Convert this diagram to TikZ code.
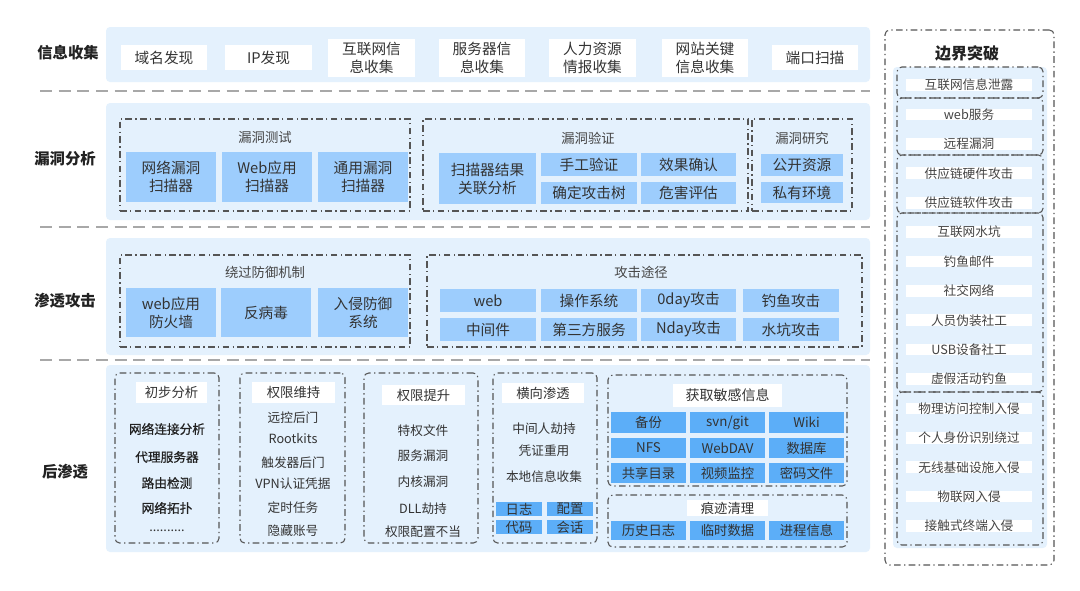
\documentclass[tikz,border=0pt]{standalone}
\usepackage{fontspec}
\setmainfont{Noto Sans CJK SC}
\newfontfamily\semibfont[FakeBold=0.8]{Noto Sans CJK SC}
\definecolor{bandbg}{HTML}{E4F1FD}
\definecolor{lightbox}{HTML}{9DCDFD}
\definecolor{strongbox}{HTML}{5CAEF8}
\definecolor{textc}{HTML}{333333}
\definecolor{titlec}{HTML}{444444}
\definecolor{rowc}{HTML}{222222}
\definecolor{linec}{HTML}{555555}
\definecolor{sepc}{HTML}{A8A8A8}
\tikzset{
  band/.style={fill=bandbg, draw=none, rounded corners=3pt},
  wbox/.style={fill=white, draw=none, text=textc, font=\fontsize{11}{13.5}\selectfont},
  lbox/.style={fill=lightbox, draw=none, text=textc, font=\fontsize{11}{13.5}\selectfont},
  sbox/.style={fill=strongbox, draw=none, text=textc, font=\fontsize{10}{12}\selectfont},
  tbox/.style={fill=white, draw=none, text=textc, font=\fontsize{10}{12}\selectfont},
  rbx/.style={fill=white, draw=none, text=titlec, font=\fontsize{9.5}{12}\selectfont},
  grp/.style={draw=linec, line width=0.8pt, dash pattern=on 5pt off 2.5pt on 1pt off 2.5pt},
  rgrp/.style={grp, rounded corners=3.5pt},
  sepline/.style={draw=sepc, line width=1pt, dash pattern=on 9pt off 5pt},
  rowlab/.style={font=\bfseries\fontsize{11.5}{14}\selectfont, text=rowc},
  gtitle/.style={font=\fontsize{10}{12}\selectfont, text=titlec},
  itm/.style={font=\fontsize{9.5}{12}\selectfont, text=textc},
  itmb/.style={font=\semibfont\fontsize{9.5}{12}\selectfont, text=rowc},
}
\newcommand\drawbox[7]{%
  \pgfmathsetmacro\dbw{(#5-#3)*0.75}%
  \pgfmathsetmacro\dbh{(#6-#4)*0.75}%
  \node[#1, minimum width=\dbw pt, minimum height=\dbh pt, inner sep=0pt, align=center] (#2) at ({(#3+#5)/2},{(#4+#6)/2}) {#7};}
\begin{document}
\begin{tikzpicture}[x=0.75pt,y=-0.75pt]
\useasboundingbox[fill=white] (0,0) rectangle (1080,590);

% bands
\drawbox{band}{band1}{106}{27}{870}{82}{}
\drawbox{band}{band2}{106}{103}{870}{220}{}
\drawbox{band}{band3}{106}{238}{870}{355}{}
\drawbox{band}{band4}{106}{365}{870}{552}{}

% separators
\coordinate (s1a) at (40,91); \coordinate (s1b) at (870,91);
\coordinate (s2a) at (40,227); \coordinate (s2b) at (870,227);
\coordinate (s3a) at (40,360); \coordinate (s3b) at (870,360);
\draw[sepline] (s1a) -- (s1b);
\draw[sepline] (s2a) -- (s2b);
\draw[sepline] (s3a) -- (s3b);

% row labels
\node[rowlab] (r1) at (68,53) {信息收集};
\node[rowlab] (r2) at (65,159) {漏洞分析};
\node[rowlab] (r3) at (65,301) {渗透攻击};
\node[rowlab] (r4) at (65,472) {后渗透};

% band 1
\drawbox{wbox}{b1a}{121}{45}{207}{70}{域名发现}
\drawbox{wbox}{b1b}{225}{45}{312}{70}{IP发现}
\drawbox{wbox}{b1c}{328}{39}{415}{77}{互联网信\\息收集}
\drawbox{wbox}{b1d}{439}{39}{525}{77}{服务器信\\息收集}
\drawbox{wbox}{b1e}{549}{39}{636}{77}{人力资源\\情报收集}
\drawbox{wbox}{b1f}{662}{39}{748}{77}{网站关键\\信息收集}
\drawbox{wbox}{b1g}{772}{45}{858}{70}{端口扫描}

% band 2
\drawbox{grp}{g21}{120}{119}{410}{211}{}
\node[gtitle] (g21t) at (265,137) {漏洞测试};
\drawbox{lbox}{b2a}{126}{152}{216}{202}{网络漏洞\\扫描器}
\drawbox{lbox}{b2b}{222}{152}{312}{202}{Web应用\\扫描器}
\drawbox{lbox}{b2c}{318}{152}{408}{202}{通用漏洞\\扫描器}
\drawbox{grp}{g22}{423}{119}{748}{211}{}
\node[gtitle] (g22t) at (588,138) {漏洞验证};
\drawbox{lbox}{b2d}{439}{153}{536}{204}{扫描器结果\\关联分析}
\drawbox{lbox}{b2e}{541}{153}{637}{176}{手工验证}
\drawbox{lbox}{b2f}{641}{153}{736}{176}{效果确认}
\drawbox{lbox}{b2g}{541}{182}{637}{204}{确定攻击树}
\drawbox{lbox}{b2h}{641}{182}{736}{204}{危害评估}
\drawbox{grp}{g23}{752}{119}{852}{211}{}
\node[gtitle] (g23t) at (802,138) {漏洞研究};
\drawbox{lbox}{b2i}{761}{154}{843}{176}{公开资源}
\drawbox{lbox}{b2j}{761}{182}{843}{203}{私有环境}

% band 3
\drawbox{grp}{g31}{120}{255}{410}{347}{}
\node[gtitle] (g31t) at (265,272) {绕过防御机制};
\drawbox{lbox}{b3a}{126}{288}{216}{337}{web应用\\防火墙}
\drawbox{lbox}{b3b}{221}{288}{311}{337}{反病毒}
\drawbox{lbox}{b3c}{318}{288}{408}{337}{入侵防御\\系统}
\drawbox{grp}{g32}{427}{255}{862}{347}{}
\node[gtitle] (g32t) at (641,272) {攻击途径};
\drawbox{lbox}{b3d}{440}{289}{536}{312}{web}
\drawbox{lbox}{b3e}{541}{289}{637}{312}{操作系统}
\drawbox{lbox}{b3f}{641}{289}{736}{312}{0day攻击}
\drawbox{lbox}{b3g}{743}{289}{839}{312}{钓鱼攻击}
\drawbox{lbox}{b3h}{440}{318}{536}{341}{中间件}
\drawbox{lbox}{b3i}{541}{318}{637}{341}{第三方服务}
\drawbox{lbox}{b3j}{641}{318}{736}{341}{Nday攻击}
\drawbox{lbox}{b3k}{743}{318}{839}{341}{水坑攻击}

% band 4
\drawbox{rgrp}{g41}{115}{373}{219}{543}{}
\drawbox{tbox}{g41t}{136}{382}{207}{403}{初步分析}
\node[itmb] (i41a) at (167,429) {网络连接分析};
\node[itmb] (i41b) at (167,457) {代理服务器};
\node[itmb] (i41c) at (167,483) {路由检测};
\node[itmb] (i41d) at (167,508) {网络拓扑};
\node[itm] (i41e) at (167,531) {..........};

\drawbox{rgrp}{g42}{240}{373}{345}{543}{}
\drawbox{tbox}{g42t}{252}{382}{335}{403}{权限维持}
\node[itm] (i42a) at (293,418) {远控后门};
\node[itm] (i42b) at (293,439) {Rootkits};
\node[itm] (i42c) at (293,463) {触发器后门};
\node[itm] (i42d) at (293,484) {VPN认证凭据};
\node[itm] (i42e) at (293,508) {定时任务};
\node[itm] (i42f) at (293,531) {隐藏账号};

\drawbox{rgrp}{g43}{364}{373}{478}{543}{}
\drawbox{tbox}{g43t}{382}{385}{465}{405}{权限提升}
\node[itm] (i43a) at (423,431) {特权文件};
\node[itm] (i43b) at (423,456) {服务漏洞};
\node[itm] (i43c) at (423,482) {内核漏洞};
\node[itm] (i43d) at (423,509) {DLL劫持};
\node[itm] (i43e) at (423,532) {权限配置不当};

\drawbox{rgrp}{g44}{493}{373}{597}{543}{}
\drawbox{tbox}{g44t}{502}{383}{584}{403}{横向渗透}
\node[itm] (i44a) at (544,429) {中间人劫持};
\node[itm] (i44b) at (544,451) {凭证重用};
\node[itm] (i44c) at (544,477) {本地信息收集};
\drawbox{sbox}{i44d}{496}{502}{542}{516}{日志}
\drawbox{sbox}{i44e}{547}{502}{593}{516}{配置}
\drawbox{sbox}{i44f}{496}{520}{542}{534}{代码}
\drawbox{sbox}{i44g}{547}{520}{593}{534}{会话}

\drawbox{rgrp}{g45}{608}{375}{847}{486}{}
\drawbox{tbox}{g45t}{673}{384}{782}{407}{\fontsize{10.5}{12}\selectfont 获取敏感信息}
\drawbox{sbox}{s1}{611}{412}{686}{433}{备份}
\drawbox{sbox}{s2}{690}{412}{765}{433}{svn/git}
\drawbox{sbox}{s3}{769}{412}{844}{433}{Wiki}
\drawbox{sbox}{s4}{611}{438}{686}{458}{NFS}
\drawbox{sbox}{s5}{690}{438}{765}{458}{WebDAV}
\drawbox{sbox}{s6}{769}{438}{844}{458}{数据库}
\drawbox{sbox}{s7}{611}{463}{686}{483}{共享目录}
\drawbox{sbox}{s8}{690}{463}{765}{483}{视频监控}
\drawbox{sbox}{s9}{769}{463}{844}{483}{密码文件}

\drawbox{rgrp}{g46}{608}{495}{847}{547}{}
\drawbox{tbox}{g46t}{687}{500}{768}{516}{痕迹清理}
\drawbox{sbox}{t1}{611}{521}{686}{540}{历史日志}
\drawbox{sbox}{t2}{690}{521}{765}{540}{临时数据}
\drawbox{sbox}{t3}{769}{521}{844}{540}{进程信息}

% right column
\drawbox{rgrp}{g5}{885}{30}{1054}{565}{}
\node[rowlab, font=\bfseries\fontsize{12}{14}\selectfont] (g5t) at (967,53) {边界突破};
\drawbox{band}{band5}{893}{67}{1047}{548}{}
\foreach \t [count=\i from 0] in {互联网信息泄露,web服务,远程漏洞,供应链硬件攻击,供应链软件攻击,互联网水坑,钓鱼邮件,社交网络,人员伪装社工,USB设备社工,虚假活动钓鱼,物理访问控制入侵,个人身份识别绕过,无线基础设施入侵,物联网入侵,接触式终端入侵}{
  \pgfmathsetmacro\cy{85+29.4*\i}
  \drawbox{rbx}{r5\i}{906}{\cy-12.5}{1032}{\cy+12.5}{\t}
}
\drawbox{rgrp}{q1}{897}{67}{1043}{98}{}
\drawbox{rgrp}{q2}{897}{98}{1043}{155}{}
\drawbox{rgrp}{q3}{897}{155}{1043}{213}{}
\drawbox{rgrp}{q4}{897}{213}{1043}{392}{}
\drawbox{rgrp}{q5}{897}{392}{1043}{545}{}
\end{tikzpicture}
\end{document}
